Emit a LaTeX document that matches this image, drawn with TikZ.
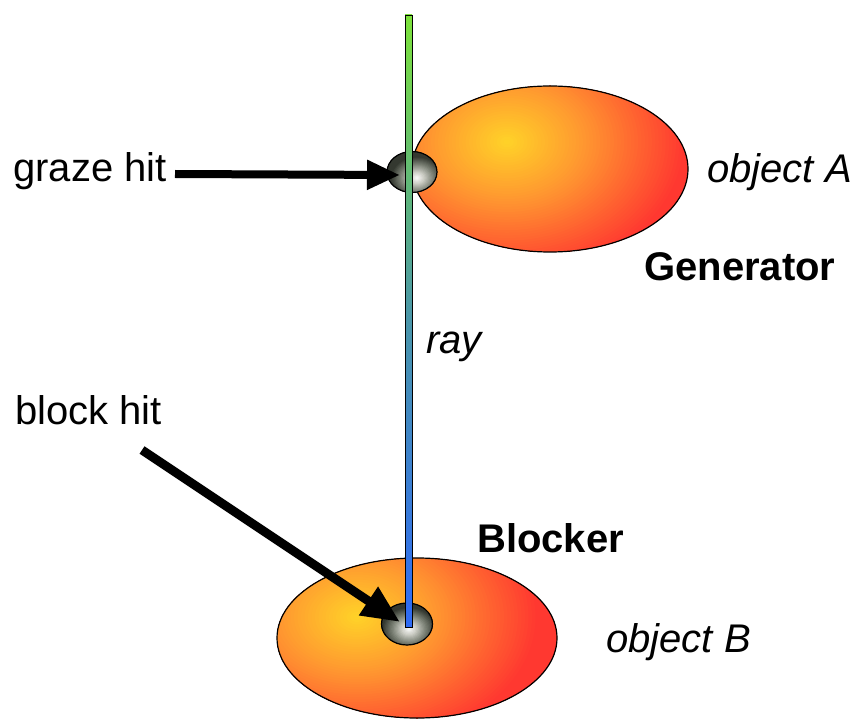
\documentclass[tikz,border=0pt]{standalone}
\usepackage{fontspec}
\setmainfont{Liberation Sans}
\usetikzlibrary{shapes.geometric,arrows.meta}
\definecolor{hiyel}{RGB}{255,212,40}
\definecolor{midor}{RGB}{255,150,48}
\definecolor{edgered}{RGB}{255,56,48}
\definecolor{raytop}{RGB}{124,226,58}
\definecolor{raymid}{RGB}{74,150,170}
\definecolor{raybot}{RGB}{46,106,246}
\definecolor{gdark}{RGB}{52,56,48}
\definecolor{gmid}{RGB}{118,124,112}
\definecolor{glight}{RGB}{205,206,198}
% concentric-ring gradient: centre x, centre y, rx, ry, highlight x, highlight y, steps
\newcommand\orangerings[7]{%
  \begin{scope}
    \clip (#1,#2) ellipse [x radius=#3, y radius=#4];
    \fill[edgered] (#1,#2) ellipse [x radius=#3+5, y radius=#4+5];
    \foreach \k in {0,...,#7}{
      \pgfmathsetmacro\dd{(#7-\k)*0.025}
      \pgfmathsetmacro\pa{min(100,\dd/0.58*100)}
      \pgfmathsetmacro\pb{max(0,min(100,(\dd-0.58)/0.72*100))}
      \colorlet{tmpc}{midor!\pa!hiyel}
      \colorlet{ringc}{edgered!\pb!tmpc}
      \fill[ringc] (#5,#6) ellipse [x radius=\dd*#3+0.01, y radius=\dd*#4*1.25+0.01];
    }
  \end{scope}}
\newcommand\grayrings[6]{%
  \begin{scope}
    \clip (#1,#2) ellipse [x radius=#3, y radius=#4];
    \fill[gdark] (#1,#2) ellipse [x radius=#3+3, y radius=#4+3];
    \foreach \k in {0,...,30}{
      \pgfmathsetmacro\dd{(30-\k)*0.05}
      \pgfmathsetmacro\pa{min(100,\dd/0.3*100)}
      \pgfmathsetmacro\pb{max(0,min(100,(\dd-0.3)/0.4*100))}
      \pgfmathsetmacro\pc{max(0,min(100,(\dd-0.7)/0.35*100))}
      \colorlet{ca}{glight!\pa!white}
      \colorlet{cb}{gmid!\pb!ca}
      \colorlet{ringc}{gdark!\pc!cb}
      \fill[ringc] (#5,#6) ellipse [x radius=\dd*#3+0.01, y radius=\dd*#4+0.01];
    }
  \end{scope}}
\tikzset{
  objell/.style={ellipse, draw=black, line width=1.2pt, inner sep=0pt},
  raybox/.style={rectangle, draw=black, line width=0.7pt, inner sep=0pt, minimum width=7pt, minimum height=612pt, top color=raytop, bottom color=raybot, middle color=raymid},
  hitarrow/.style={line width=8pt, -{Triangle[length=33pt,width=28pt]}},
  lbl/.style={anchor=base west, inner sep=0pt, font=\fontsize{40}{48}\selectfont},
}
\begin{document}
\begin{tikzpicture}[x=1pt,y=-1pt]
\useasboundingbox (0,0) rectangle (851,719);
% object A
\orangerings{550}{169}{138}{83}{507}{142}{56}
\node[objell, minimum width=276pt, minimum height=166pt] (objA) at (550,169) {};
% graze hit
\grayrings{412}{172}{25}{20.5}{417}{178}
\node[objell, minimum width=50pt, minimum height=41pt] (graze) at (412,172) {};
% object B
\orangerings{417}{638}{140}{80}{357}{617}{60}
\node[objell, minimum width=280pt, minimum height=160pt] (objB) at (417,638) {};
% block hit
\grayrings{407}{624}{25.5}{21}{409}{629}
\node[objell, minimum width=51pt, minimum height=42pt] (block) at (407,624) {};
% ray
\node[raybox] (ray) at (408.5,321) {};
% arrows
\coordinate (gstart) at (175,174);
\coordinate (gtip) at (400,175);
\coordinate (bstart) at (142,450);
\coordinate (btip) at (400,622);
\draw[hitarrow] (gstart) -- (gtip);
\draw[hitarrow, line width=9pt, -{Triangle[length=38pt,width=32pt]}] (bstart) -- (btip);
% labels
\node[lbl] (tgraze) at (13,182) {graze hit};
\node[lbl] (tblock) at (15,424) {block hit};
\node[lbl, font=\fontsize{40}{48}\selectfont\itshape] (tobjA) at (707,183) {object A};
\node[lbl, font=\fontsize{40}{48}\selectfont\bfseries] (tgen) at (644,280) {Generator};
\node[lbl, font=\fontsize{40}{48}\selectfont\itshape] (tray) at (426,353) {ray};
\node[lbl, font=\fontsize{40}{48}\selectfont\bfseries] (tblocker) at (477,552) {Blocker};
\node[lbl, font=\fontsize{40}{48}\selectfont\itshape] (tobjB) at (606,652) {object B};
\end{tikzpicture}
\end{document}
